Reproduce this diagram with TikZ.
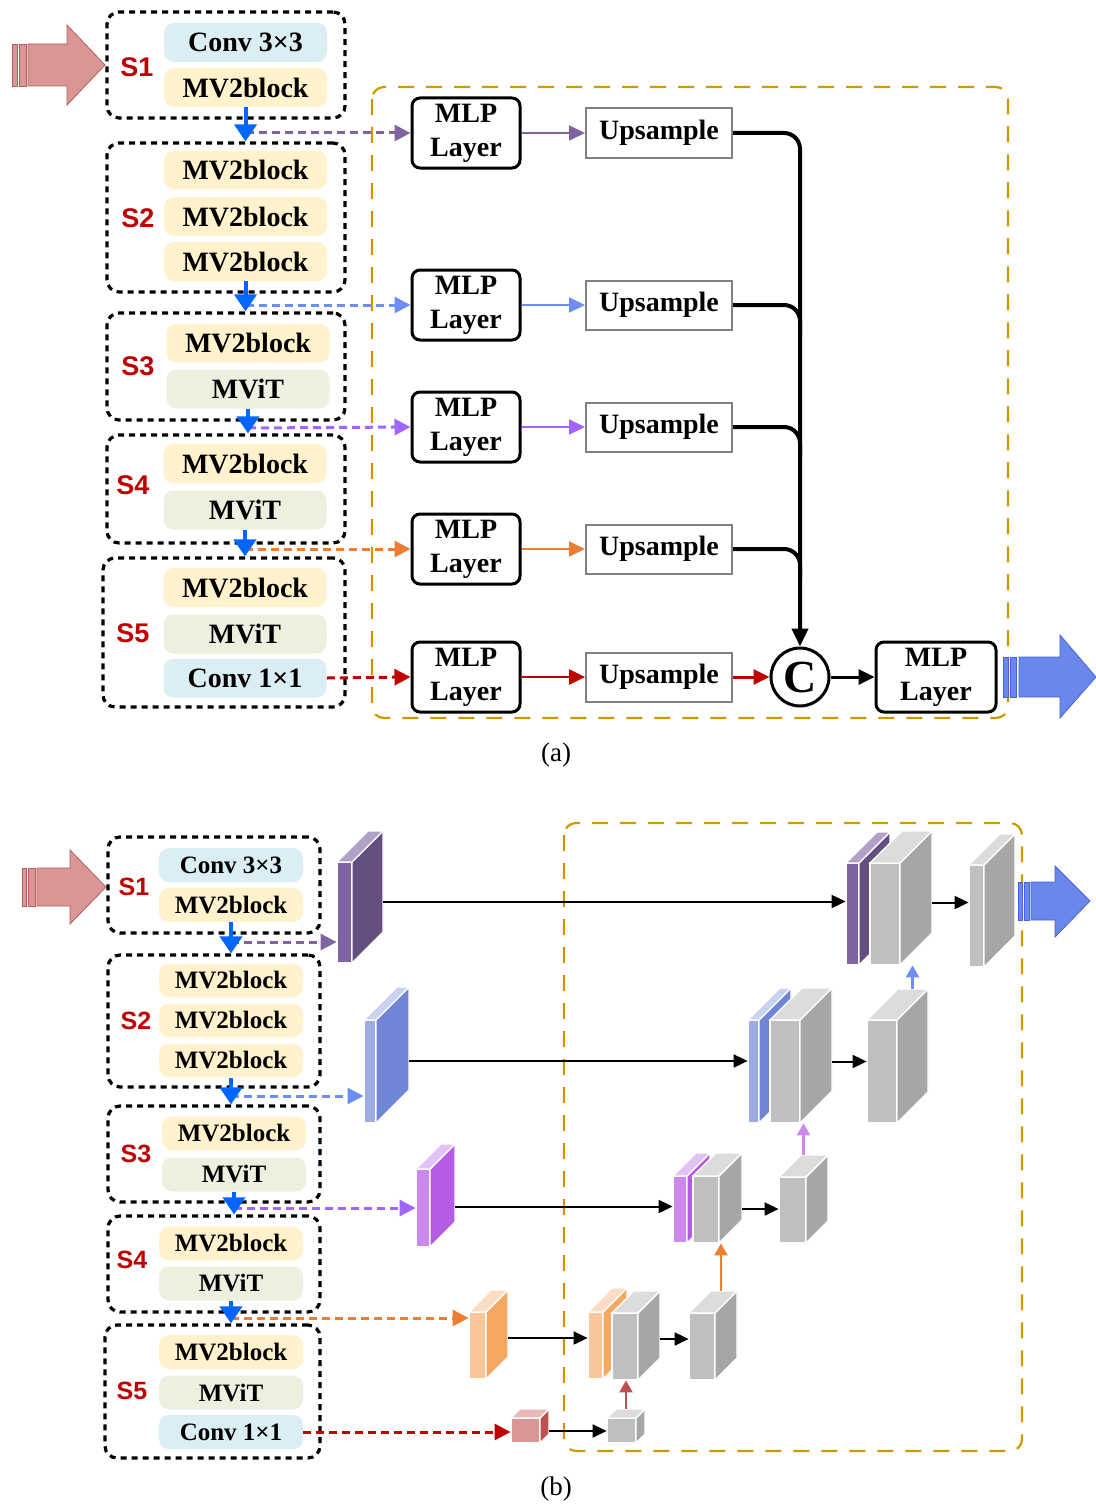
\documentclass[tikz,border=0pt]{standalone}
\usepackage{fontspec}
\setmainfont{Liberation Serif}
\newfontfamily\stagefont{Liberation Sans}
\usetikzlibrary{arrows.meta, positioning, fit}

% block colours
\definecolor{convblue}{RGB}{218,238,243}
\definecolor{mvyellow}{RGB}{255,242,204}
\definecolor{mvitgreen}{RGB}{235,241,222}
\definecolor{sred}{RGB}{192,0,0}
\definecolor{flowblue}{RGB}{0,102,255}
\definecolor{gold}{RGB}{204,153,0}
\definecolor{upgray}{RGB}{128,128,128}
% connector colours
\definecolor{tappurple}{RGB}{128,100,162}
\definecolor{tapblue}{RGB}{109,142,240}
\definecolor{tapviolet}{RGB}{160,102,255}
\definecolor{taporange}{RGB}{237,125,49}
\definecolor{tapred}{RGB}{192,0,0}
% big arrows
\definecolor{inpink}{RGB}{217,150,148}
\definecolor{inpinkline}{RGB}{180,95,92}
\definecolor{outblue}{RGB}{106,135,235}
\definecolor{outblueline}{RGB}{70,100,210}
% feature map faces
\definecolor{pufront}{RGB}{128,100,162}\definecolor{puside}{RGB}{100,78,128}\definecolor{putop}{RGB}{177,160,199}
\definecolor{blfront}{RGB}{157,171,227}\definecolor{blside}{RGB}{112,133,213}\definecolor{bltop}{RGB}{200,210,242}
\definecolor{vifront}{RGB}{204,136,234}\definecolor{viside}{RGB}{181,91,229}\definecolor{vitop}{RGB}{226,193,244}
\definecolor{orfront}{RGB}{249,197,154}\definecolor{orside}{RGB}{244,168,98}\definecolor{ortop}{RGB}{252,220,196}
\definecolor{rdfront}{RGB}{217,149,148}\definecolor{rdside}{RGB}{192,80,77}\definecolor{rdtop}{RGB}{230,184,183}
\definecolor{grfront}{RGB}{191,191,191}\definecolor{grside}{RGB}{166,166,166}\definecolor{grtop}{RGB}{220,220,220}

% feature map: name, x, bottom y, width, height, depth, colour set
\newcommand{\fmap}[7]{%
  \filldraw[fill=#7front, draw=white, line width=0.6pt] (#2,#3) rectangle ({#2+#4},{#3-#5});
  \filldraw[fill=#7side, draw=white, line width=0.6pt] ({#2+#4},#3) -- ({#2+#4+#6},{#3-#6}) -- ({#2+#4+#6},{#3-#5-#6}) -- ({#2+#4},{#3-#5}) -- cycle;
  \filldraw[fill=#7top, draw=white, line width=0.6pt] (#2,{#3-#5}) -- ({#2+#4},{#3-#5}) -- ({#2+#4+#6},{#3-#5-#6}) -- ({#2+#6},{#3-#5-#6}) -- cycle;
  \coordinate (#1-sw) at (#2,#3);
  \coordinate (#1-ne) at ({#2+#4+#6},{#3-#5-#6});
  \node[fit=(#1-sw)(#1-ne), inner sep=0pt] (#1) {};
}

\tikzset{
  stage/.style={draw, line width=1.6pt, dash pattern=on 3pt off 2.5pt, rounded corners=6pt},
  blk/.style={rounded corners=5pt, minimum width=81.5pt, minimum height=19.5pt, inner sep=0pt,
    font=\fontsize{14}{17}\selectfont\bfseries},
  sblk/.style={blk, minimum width=72pt, minimum height=17pt, font=\fontsize{12.5}{15}\selectfont\bfseries},
  slabel/.style={text=sred, font=\stagefont\fontsize{13.5}{16}\selectfont\bfseries},
  sslabel/.style={slabel, font=\stagefont\fontsize{12.5}{15}\selectfont\bfseries},
  mlp/.style={draw, line width=1.5pt, rounded corners=4pt, minimum width=54pt, minimum height=35pt,
    inner sep=0pt, align=center, font=\fontsize{14}{17}\selectfont\bfseries},
  ups/.style={draw=upgray, line width=1pt, minimum width=73pt, minimum height=24.5pt, inner sep=0pt,
    font=\fontsize{14}{17}\selectfont\bfseries},
  cat/.style={circle, draw, line width=1.5pt, minimum size=29pt, inner sep=0pt, font=\fontsize{23}{23}\selectfont\bfseries},
  flow/.style={draw=flowblue, line width=2pt, -{Triangle[length=8.5pt,width=11pt]}},
  tap/.style={line width=1.5pt, dash pattern=on 4pt off 2.5pt, -{Triangle[length=8pt,width=8pt]}},
  link/.style={line width=1pt, -{Triangle[length=8pt,width=7.5pt]}},
  bus/.style={line width=2pt, rounded corners=8pt},
  fwd/.style={line width=1pt, -{Triangle[length=7pt,width=6.5pt]}},
  rise/.style={line width=1.2pt, -{Triangle[length=6pt,width=6.5pt]}},
  goldbox/.style={draw=gold, line width=1.1pt, dash pattern=on 8pt off 6pt, rounded corners=6pt},
  bigin/.style={fill=inpink, draw=inpinkline, line width=0.4pt},
  bigout/.style={fill=outblue, draw=outblueline, line width=0.4pt}
}

\begin{document}
\begin{tikzpicture}[x=0.5pt, y=-0.5pt]
  \useasboundingbox (0,0) rectangle (1096,1504);

  % ================= (a) =================
  % input arrow
  \filldraw[bigin] (12,44) rectangle (17,86);
  \filldraw[bigin] (19,44) rectangle (26,86);
  \filldraw[bigin] (28,44) -- (67,44) -- (67,25) -- (105,65) -- (67,105) -- (67,86) -- (28,86) -- cycle;

  % decoder frame
  \draw[goldbox] (372,87) rectangle (1008,718);

  % encoder stages
  \node[stage, minimum width=119pt, minimum height=53pt] (s1) at (226,65) {};
  \node[blk, fill=convblue] (b1a) at (245.5,42.5) {Conv 3×3};
  \node[blk, fill=mvyellow] (b1b) at (245.5,87.5) {MV2block};
  \node[slabel] (l1) at (137,67) {S1};

  \node[stage, minimum width=119pt, minimum height=74.5pt] (s2) at (226,217.5) {};
  \node[blk, fill=mvyellow] (b2a) at (245.5,170) {MV2block};
  \node[blk, fill=mvyellow] (b2b) at (245.5,216.5) {MV2block};
  \node[blk, fill=mvyellow] (b2c) at (245.5,261.5) {MV2block};
  \node[slabel] (l2) at (138,218) {S2};

  \node[stage, minimum width=119pt, minimum height=53.5pt] (s3) at (226,366.5) {};
  \node[blk, fill=mvyellow] (b3a) at (248,343) {MV2block};
  \node[blk, fill=mvitgreen] (b3b) at (248,389) {MViT};
  \node[slabel] (l3) at (138,366) {S3};

  \node[stage, minimum width=119pt, minimum height=54pt] (s4) at (226,489) {};
  \node[blk, fill=mvyellow] (b4a) at (245,463.5) {MV2block};
  \node[blk, fill=mvitgreen] (b4b) at (245,510) {MViT};
  \node[slabel] (l4) at (133,485) {S4};

  \node[stage, minimum width=121pt, minimum height=74.5pt] (s5) at (224,632.5) {};
  \node[blk, fill=mvyellow] (b5a) at (245,587.5) {MV2block};
  \node[blk, fill=mvitgreen] (b5b) at (245,634) {MViT};
  \node[blk, fill=convblue] (b5c) at (245,678) {Conv 1×1};
  \node[slabel] (l5) at (133,633) {S5};

  % MLP layers and upsampling
  \node[mlp] (mlp1) at (466,133) {MLP\\Layer};
  \node[mlp] (mlp2) at (466,305) {MLP\\Layer};
  \node[mlp] (mlp3) at (466,427) {MLP\\Layer};
  \node[mlp] (mlp4) at (466,549) {MLP\\Layer};
  \node[mlp] (mlp5) at (466,677) {MLP\\Layer};
  \node[ups] (up1) at (659,133) {Upsample};
  \node[ups] (up2) at (659,305) {Upsample};
  \node[ups] (up3) at (659,427) {Upsample};
  \node[ups] (up4) at (659,549) {Upsample};
  \node[ups] (up5) at (659,677) {Upsample};
  \node[cat] (cc) at (800,677) {C};
  \node[mlp, minimum width=60pt] (mlp6) at (936,677) {MLP\\Layer};

  % taps from the stages
  \coordinate (t1) at (245.5,133);
  \coordinate (t2) at (245.5,305);
  \coordinate (t3) at (248,428);
  \coordinate (t4) at (245,549);
  \draw[tap, tappurple] (t1) -- (mlp1.west);
  \draw[tap, tapblue] (t2) -- (mlp2.west);
  \draw[tap, tapviolet] (t3) -- (mlp3.west);
  \draw[tap, taporange] (t4) -- (mlp4.west);
  \draw[tap, tapred] (b5c.east) -- (mlp5.west);

  % stage to stage
  \draw[flow] (b1b.south) -- (b1b.south |- s2.north);
  \draw[flow] (b2c.south) -- (b2c.south |- s3.north);
  \draw[flow] (b3b.south) -- (b3b.south |- s4.north);
  \draw[flow] (b4b.south) -- (b4b.south |- s5.north);

  \draw[link, tappurple] (mlp1) -- (up1);
  \draw[link, tapblue] (mlp2) -- (up2);
  \draw[link, tapviolet] (mlp3) -- (up3);
  \draw[link, taporange] (mlp4) -- (up4);
  \draw[link, tapred, line width=1.3pt] (mlp5) -- (up5);

  % collect into the concat
  \coordinate (j2) at (up2.east -| cc.north);
  \coordinate (j3) at (up3.east -| cc.north);
  \coordinate (j4) at (up4.east -| cc.north);
  \draw[bus, -{Triangle[length=9pt,width=8pt]}] (up1.east) -| (cc.north);
  \draw[bus] (up2.east) -- (j2) -- ++(0,30);
  \draw[bus] (up3.east) -- (j3) -- ++(0,30);
  \draw[bus] (up4.east) -- (j4) -- ++(0,30);
  \draw[link, tapred, line width=1.5pt] (up5) -- (cc);
  \draw[link, line width=1.5pt] (cc) -- (mlp6);

  % output arrow
  \filldraw[bigout] (1003,657) rectangle (1008,697);
  \filldraw[bigout] (1010,657) rectangle (1016,697);
  \filldraw[bigout] (1019,657) -- (1060,657) -- (1060,635) -- (1096,677) -- (1060,718) -- (1060,697) -- (1019,697) -- cycle;

  \node[font=\fontsize{13.5}{16}\selectfont] (capa) at (556,755) {(a)};

  % ================= (b) =================
  \filldraw[bigin] (22,868) rectangle (26,906);
  \filldraw[bigin] (28,868) rectangle (35,906);
  \filldraw[bigin] (37,868) -- (70,868) -- (70,850) -- (106,887) -- (70,924) -- (70,906) -- (37,906) -- cycle;

  \draw[goldbox] (564,823) rectangle (1022,1451);

  % encoder stages
  \node[stage, minimum width=106pt, minimum height=48pt] (q1) at (214,885) {};
  \node[sblk, fill=convblue] (m1a) at (231,865) {Conv 3×3};
  \node[sblk, fill=mvyellow] (m1b) at (231,905) {MV2block};
  \node[sslabel] (k1) at (134,887) {S1};

  \node[stage, minimum width=106pt, minimum height=66pt] (q2) at (214,1021) {};
  \node[sblk, fill=mvyellow] (m2a) at (231,980.5) {MV2block};
  \node[sblk, fill=mvyellow] (m2b) at (231,1020.5) {MV2block};
  \node[sblk, fill=mvyellow] (m2c) at (231,1060.5) {MV2block};
  \node[sslabel] (k2) at (136,1021) {S2};

  \node[stage, minimum width=106pt, minimum height=48pt] (q3) at (214,1154) {};
  \node[sblk, fill=mvyellow] (m3a) at (234,1133.5) {MV2block};
  \node[sblk, fill=mvitgreen] (m3b) at (234,1174.5) {MViT};
  \node[sslabel] (k3) at (136,1154) {S3};

  \node[stage, minimum width=106pt, minimum height=48pt] (q4) at (214,1264) {};
  \node[sblk, fill=mvyellow] (m4a) at (231,1243.5) {MV2block};
  \node[sblk, fill=mvitgreen] (m4b) at (231,1283.5) {MViT};
  \node[sslabel] (k4) at (132,1260) {S4};

  \node[stage, minimum width=107.5pt, minimum height=66.5pt] (q5) at (212.5,1391.5) {};
  \node[sblk, fill=mvyellow] (m5a) at (231,1352) {MV2block};
  \node[sblk, fill=mvitgreen] (m5b) at (231,1392.5) {MViT};
  \node[sblk, fill=convblue] (m5c) at (231,1432) {Conv 1×1};
  \node[sslabel] (k5) at (132,1391) {S5};

  % stage outputs
  \fmap{f1}{337}{963}{15}{101}{31}{pu}
  \fmap{f2}{364}{1123}{12}{103}{33}{bl}
  \fmap{f3}{416}{1247}{14}{78}{25}{vi}
  \fmap{f4}{469}{1379}{17}{67}{22}{or}
  \fmap{f5}{511}{1443}{29}{25}{9}{rd}

  % decoder maps
  \fmap{c1p}{846}{965}{13}{102}{31}{pu}
  \fmap{c1g}{870}{965}{30}{102}{32}{gr}
  \fmap{o1}{969}{967}{15}{102}{31}{gr}
  \fmap{c2b}{748}{1123}{11}{103}{32}{bl}
  \fmap{c2g}{770}{1123}{30}{103}{32}{gr}
  \fmap{o2}{867}{1123}{30}{103}{31}{gr}
  \fmap{c3v}{673}{1243}{14}{67}{23}{vi}
  \fmap{c3g}{693}{1243}{26}{67}{23}{gr}
  \fmap{o3}{779}{1243}{27}{66}{22}{gr}
  \fmap{c4o}{588}{1379}{15}{67}{24}{or}
  \fmap{c4g}{612}{1380}{26}{67}{22}{gr}
  \fmap{o4}{689}{1380}{26}{67}{22}{gr}
  \fmap{g5}{607}{1443}{29}{25}{9}{gr}

  % taps
  \coordinate (u1) at (231,942);
  \coordinate (u2) at (231,1096);
  \coordinate (u3) at (234,1208);
  \coordinate (u4) at (231,1318);
  \draw[tap, tappurple] (u1) -- (u1 -| f1.west);
  \draw[tap, tapblue] (u2) -- (u2 -| f2.west);
  \draw[tap, tapviolet] (u3) -- (u3 -| f3.west);
  \draw[tap, taporange] (u4) -- (u4 -| f4.west);
  \draw[tap, tapred] (m5c.east) -- (m5c.east -| f5.west);

  \draw[flow] (m1b.south) -- (m1b.south |- q2.north);
  \draw[flow] (m2c.south) -- (m2c.south |- q3.north);
  \draw[flow] (m3b.south) -- (m3b.south |- q4.north);
  \draw[flow] (m4b.south) -- (m4b.south |- q5.north);

  % skip connections and refinement
  \draw[fwd] (f1.east) ++(0,-2.25pt) coordinate (w1) -- (w1 -| c1p.west);
  \draw[fwd] (c1g.east) ++(0,-2.25pt) coordinate (w1b) -- (w1b -| o1.west);
  \draw[fwd] (f2.east) ++(0,-3pt) coordinate (w2) -- (w2 -| c2b.west);
  \draw[fwd] (c2g.east) ++(0,-3pt) coordinate (w2b) -- (w2b -| o2.west);
  \draw[fwd] (f3.east) ++(0,-5.5pt) coordinate (w3) -- (w3 -| c3v.west);
  \draw[fwd] (c3g.east) ++(0,-5.5pt) coordinate (w3b) -- (w3b -| o3.west);
  \draw[fwd] (f4.east) ++(0,-1.75pt) coordinate (w4) -- (w4 -| c4o.west);
  \draw[fwd] (c4g.east) ++(0,-1.75pt) coordinate (w4b) -- (w4b -| o4.west);
  \draw[fwd] (f5.east) ++(0,-2.5pt) coordinate (w5) -- (w5 -| g5.west);

  % upsampling steps
  \draw[rise, tapblue] (o2.north) ++(7.5pt,0) coordinate (v2) -- (v2 |- c1g.south);
  \draw[rise, vifront] (o3.north) -- (o3.north |- c2g.south);
  \draw[rise, taporange] (o4.north) ++(4pt,0) coordinate (v4) -- (v4 |- c3g.south);
  \draw[rise, rdside] (g5.north) -- (g5.north |- c4g.south);

  % output arrow
  \filldraw[bigout] (1018,882) rectangle (1022,920);
  \filldraw[bigout] (1024,882) rectangle (1029,920);
  \filldraw[bigout] (1031,882) -- (1055,882) -- (1055,866) -- (1090,901) -- (1055,937) -- (1055,920) -- (1031,920) -- cycle;

  \node[font=\fontsize{13.5}{16}\selectfont] (capb) at (556,1489) {(b)};
\end{tikzpicture}
\end{document}
